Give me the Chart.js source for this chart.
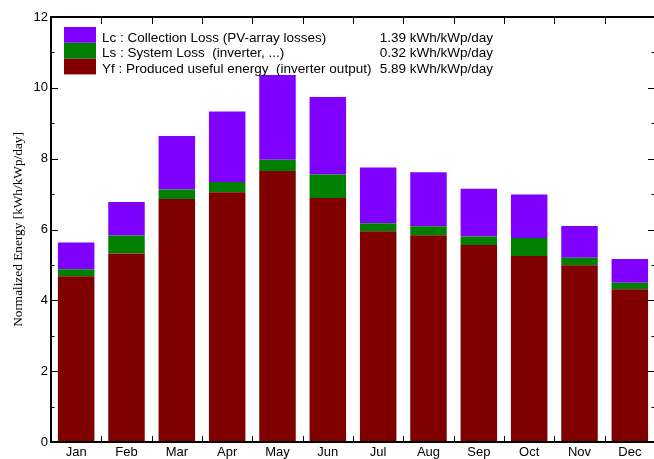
<!DOCTYPE html>
<html>
<head>
<meta charset="utf-8">
<title>Normalized productions</title>
<script src="https://cdn.jsdelivr.net/npm/chart.js@4.4.1/dist/chart.umd.min.js"></script>
<style>
  html, body { margin: 0; padding: 0; background: #fff; overflow: hidden; }
  #wrap { width: 656px; height: 459px; }
</style>
</head>
<body>
<div id="wrap"><canvas id="chart" width="656" height="459"></canvas></div>
<script>
// Monthly normalized energy, kWh/kWp/day
const months = ['Jan', 'Feb', 'Mar', 'Apr', 'May', 'Jun', 'Jul', 'Aug', 'Sep', 'Oct', 'Nov', 'Dec'];
const yfProduced = [4.68, 5.32, 6.86, 7.05, 7.65, 6.89, 5.95, 5.84, 5.56, 5.25, 4.99, 4.31];
const lsSystemLoss = [0.20, 0.51, 0.27, 0.29, 0.32, 0.66, 0.23, 0.25, 0.24, 0.51, 0.21, 0.19];
const lcCollectionLoss = [0.75, 0.95, 1.51, 1.99, 2.39, 2.19, 1.57, 1.53, 1.35, 1.23, 0.90, 0.67];

// Legend rows (top to bottom) and yearly averages
const legendLabels = [
  'Lc : Collection Loss (PV-array losses)',
  'Ls : System Loss  (inverter, ...)',
  'Yf : Produced useful energy  (inverter output)'
];
const legendValues = ['1.39 kWh/kWp/day', '0.32 kWh/kWp/day', '5.89 kWh/kWp/day'];
const yTickValues = [0, 2, 4, 6, 8, 10, 12];

const COLORS = { lc: '#8000ff', ls: '#008000', yf: '#800000' };
const SANS = '"Liberation Sans", Arial, sans-serif';
const SERIF = '"Liberation Serif", "Times New Roman", serif';

// Frame, inward tick marks and the in-plot legend
const framePlugin = {
  id: 'frame',
  afterDraw(chart) {
    const { ctx, chartArea: a, scales } = chart;
    const ys = scales.y, xs = scales.x;
    ctx.save();
    ctx.strokeStyle = '#000';
    ctx.lineWidth = 2;
    ctx.strokeRect(a.left, a.top, a.right - a.left, a.bottom - a.top);

    ctx.lineWidth = 1;
    ctx.beginPath();
    for (let v = ys.min; v <= ys.max; v += 1) {
      const y = Math.round(ys.getPixelForValue(v)) + 0.5;
      const major = yTickValues.includes(v);
      ctx.moveTo(a.left, y); ctx.lineTo(a.left + (major ? 7 : 3.5), y);
      ctx.moveTo(a.right, y); ctx.lineTo(a.right - (major ? 7 : 3.5), y);
    }
    for (let i = 1; i < months.length; i++) {
      const x = Math.round((xs.getPixelForValue(i - 1) + xs.getPixelForValue(i)) / 2) + 0.5;
      ctx.moveTo(x, a.top); ctx.lineTo(x, a.top + 7);
      ctx.moveTo(x, a.bottom); ctx.lineTo(x, a.bottom - 6);
    }
    ctx.stroke();

    // Legend
    const swatchColors = [COLORS.lc, COLORS.ls, COLORS.yf];
    const sx = 64, sw = 32, sy = 27, sh = 15.8;
    ctx.font = '13.5px ' + SANS;
    ctx.textBaseline = 'middle';
    legendLabels.forEach((label, i) => {
      ctx.fillStyle = swatchColors[i];
      ctx.fillRect(sx, sy + i * sh, sw, sh);
      ctx.fillStyle = '#000';
      const cy = 38 + i * 15.7;
      ctx.textAlign = 'left';
      ctx.fillText(label, 102, cy);
      ctx.textAlign = 'right';
      ctx.fillText(legendValues[i], 493, cy);
    });
    ctx.restore();
  }
};

new Chart(document.getElementById('chart'), {
  type: 'bar',
  data: {
    labels: months,
    datasets: [
      { label: 'Yf', data: yfProduced, backgroundColor: COLORS.yf },
      { label: 'Ls', data: lsSystemLoss, backgroundColor: COLORS.ls },
      { label: 'Lc', data: lcCollectionLoss, backgroundColor: COLORS.lc }
    ]
  },
  options: {
    responsive: false,
    animation: false,
    devicePixelRatio: 1,
    layout: { padding: { top: 17, right: 1, left: 0, bottom: 0 } },
    datasets: { bar: { categoryPercentage: 1, barPercentage: 0.725, borderWidth: 0 } },
    plugins: { legend: { display: false }, tooltip: { enabled: false } },
    scales: {
      x: {
        stacked: true,
        grid: { display: false, drawTicks: false },
        border: { display: false },
        ticks: { color: '#000', font: { family: SANS, size: 13 }, padding: 3, maxRotation: 0 },
        afterFit(scale) { scale.height = 17; }
      },
      y: {
        stacked: true,
        min: 0, max: 12,
        grid: { display: false, drawTicks: false },
        border: { display: false },
        ticks: {
          stepSize: 1,
          color: '#000',
          padding: 3,
          font: { family: SANS, size: 13 },
          callback: (v) => (yTickValues.includes(v) ? String(v) : '')
        },
        title: {
          display: true,
          text: 'Normalized Energy [kWh/kWp/day]',
          color: '#000',
          font: { family: SERIF, size: 13.3 },
          padding: { top: 10.5, bottom: 0 }
        },
        afterFit(scale) { scale.width = 51; }
      }
    }
  },
  plugins: [framePlugin]
});
</script>
</body>
</html>
